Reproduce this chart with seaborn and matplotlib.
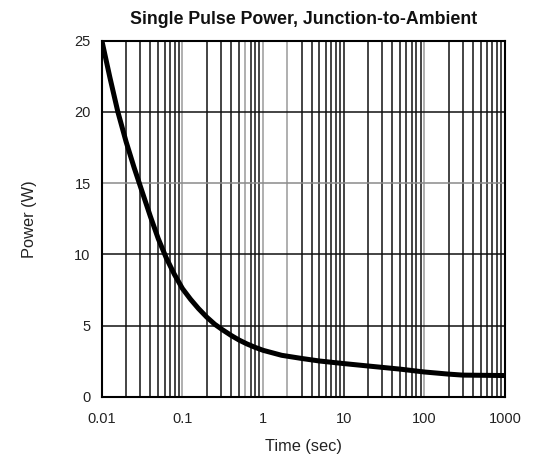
import numpy as np
import pandas as pd
import matplotlib
matplotlib.use("Agg")
import matplotlib.pyplot as plt
import seaborn as sns

# Single pulse power curve, junction-to-ambient
time_sec = [0.01, 0.0126, 0.0158, 0.02, 0.0251, 0.0316, 0.0398, 0.0501, 0.063,
            0.0794, 0.1, 0.126, 0.158, 0.2, 0.251, 0.316, 0.4, 0.5, 0.63, 0.794,
            1, 1.7, 3, 5, 10, 20, 50, 100, 200, 300, 1000]
power_w = [25.0, 22.4, 20.0, 17.9, 16.1, 14.4, 12.7, 11.1, 9.75,
           8.6, 7.6, 6.85, 6.2, 5.6, 5.1, 4.7, 4.32, 4.0, 3.72, 3.48,
           3.27, 2.92, 2.7, 2.52, 2.34, 2.17, 1.95, 1.75, 1.6, 1.53, 1.5]

x_ticks = [0.01, 0.1, 1, 10, 100, 1000]
x_tick_labels = ["0.01", "0.1", "1", "10", "100", "1000"]
y_ticks = [0, 5, 10, 15, 20, 25]

# Vertical grid positions (2..9 in every decade plus decade lines)
grid_x = [m * 10.0 ** e for e in range(-2, 3) for m in range(1, 10)][1:] + [1000]
grid_x_light = [0.1, 0.6, 1, 2, 100]
grid_y_light = [15]

sns.set_theme(style="white")
plt.rcParams["font.family"] = ["Liberation Sans", "DejaVu Sans"]

fig = plt.figure(figsize=(5.36, 4.61), dpi=100)
ax = fig.add_axes([0.190, 0.139, 0.752, 0.773])

df = pd.DataFrame({"Time (sec)": time_sec, "Power (W)": power_w})

for gx in grid_x:
    light = any(abs(gx - g) / g < 1e-6 for g in grid_x_light)
    ax.axvline(gx, color="#9a9a9a" if light else "#111111", lw=1.1, zorder=1)
for gy in y_ticks:
    ax.axhline(gy, color="#8a8a8a" if gy in grid_y_light else "#111111", lw=1.1, zorder=1)

sns.lineplot(data=df, x="Time (sec)", y="Power (W)", ax=ax, color="black",
             lw=3.6, zorder=3)

ax.set_xscale("log")
ax.set_xlim(0.01, 1000)
ax.set_ylim(0, 25)
ax.set_xticks(x_ticks)
ax.set_xticklabels(x_tick_labels)
ax.set_yticks(y_ticks)
ax.minorticks_off()
ax.tick_params(axis="both", length=0, labelsize=10.5, colors="#222222")
ax.tick_params(axis="x", pad=11)
ax.tick_params(axis="y", pad=8)

for s in ax.spines.values():
    s.set_color("black")
    s.set_linewidth(1.5)

ax.set_xlabel("Time (sec)", fontsize=11.8, color="#222222", labelpad=9)
ax.set_ylabel("Power (W)", fontsize=11.8, color="#222222", labelpad=27)
ax.set_title("Single Pulse Power, Junction-to-Ambient", fontsize=12.8,
             fontweight="bold", color="#111111", pad=12)

fig.savefig("out.png", dpi=100)
